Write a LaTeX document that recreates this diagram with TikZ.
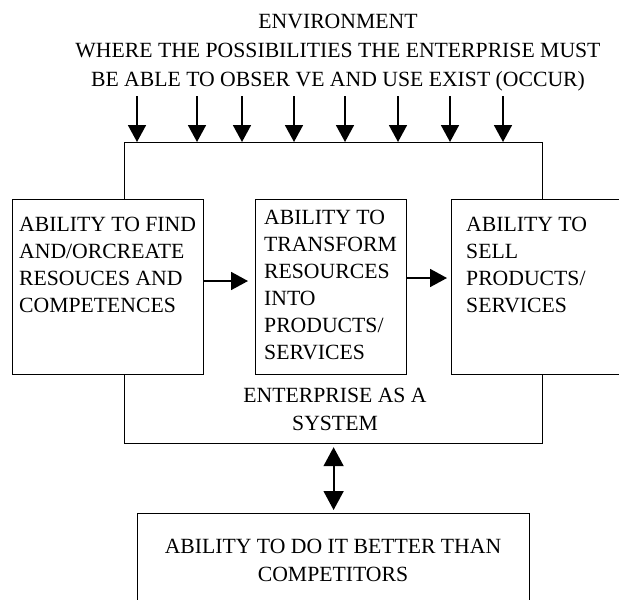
\documentclass[tikz,border=0pt]{standalone}
\usepackage{fontspec}
\setmainfont{Liberation Serif}
\usetikzlibrary{positioning,arrows.meta}

\tikzset{
  box/.style={draw, line width=1.2, fill=white, inner sep=0pt},
  boxtext/.style={anchor=north west, align=left, inner sep=0pt, font=\fontsize{21.7}{27}\selectfont},
  flow/.style={line width=1.8, -{Triangle[length=17pt,width=18pt]}},
}

\begin{document}
\begin{tikzpicture}[x=1pt,y=1pt,yscale=-1,xscale=1]
\useasboundingbox (0,0) rectangle (619,600);

% Environment heading
\node (env) at (338,53) [align=center, inner sep=0pt, font=\fontsize{21.7}{29}\selectfont]
  {ENVIRONMENT\\WHERE THE POSSIBILITIES THE ENTERPRISE MUST\\BE ABLE TO OBSER VE AND USE EXIST (OCCUR)};

% Enterprise as a system
\node (system) [box, anchor=north west, minimum width=418, minimum height=301] at (124,142) {};
\node (sysname) at (335,409) [align=center, inner sep=0pt, font=\fontsize{21.7}{28}\selectfont] {ENTERPRISE AS A\\SYSTEM};

% Environment arrows
\foreach \x in {137,197,242,294,345,398,450,503} {
  \draw [flow] (\x,96) -- (\x,0 |- system.north);
}

% Ability boxes
\node (find) [box, anchor=north west, minimum width=191, minimum height=175] at (12,199) {};
\node (transform) [box, anchor=north west, minimum width=151, minimum height=175] at (255,199) {};
\node (sell) [box, anchor=north west, minimum width=180, minimum height=175] at (451,199) {};

\node (findtext) [boxtext] at ([shift={(7,18)}]find.north west) {ABILITY TO FIND\\AND/ORCREATE\\RESOUCES AND\\COMPETENCES};
\node (transformtext) [boxtext] at ([shift={(9,11)}]transform.north west) {ABILITY TO\\TRANSFORM\\RESOURCES\\INTO\\PRODUCTS/\\SERVICES};
\node (selltext) [boxtext] at ([shift={(15,18)}]sell.north west) {ABILITY TO\\SELL\\PRODUCTS/\\SERVICES};

% Flow between abilities
\draw [flow, shorten >=7pt] (find.east |- 0,281) -- (transform.west |- 0,281);
\draw [flow, shorten >=4pt] (transform.east |- 0,278) -- (sell.west |- 0,278);

% Competitors
\node (better) [box, anchor=north west, minimum width=392, minimum height=100] at (137,513) {};
\node (bettertext) at (333,560) [align=center, inner sep=0pt, font=\fontsize{21.7}{28}\selectfont] {ABILITY TO DO IT BETTER THAN\\COMPETITORS};

\draw [line width=1.8, {Triangle[length=19pt,width=20pt]}-{Triangle[length=19pt,width=20pt]}, shorten <=3pt, shorten >=3pt] (system.south) -- (better.north);

\end{tikzpicture}
\end{document}
